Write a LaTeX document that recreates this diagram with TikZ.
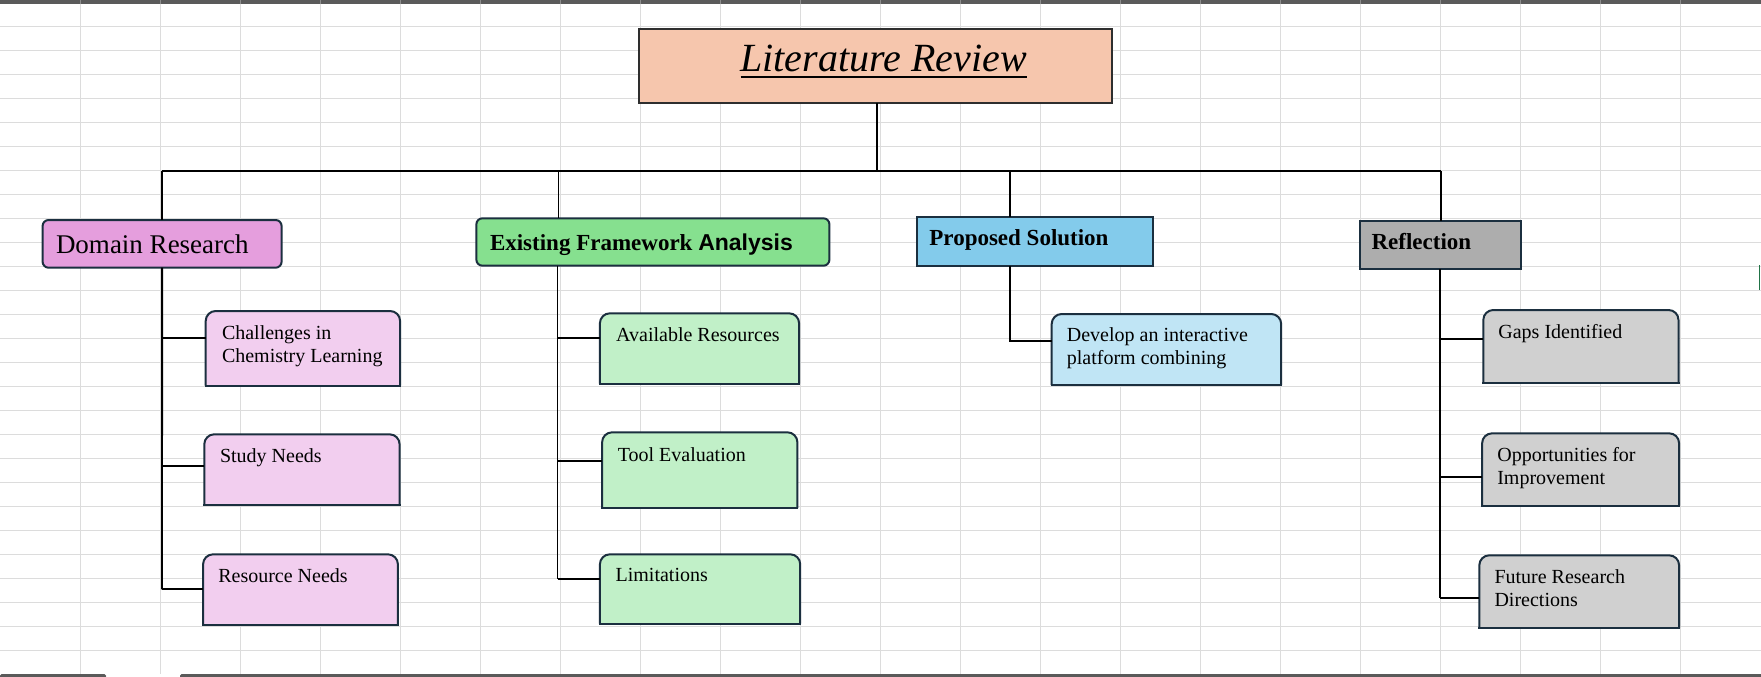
\documentclass[tikz,border=0pt]{standalone}
\usepackage{fontspec}
\setmainfont{Liberation Serif}
\newfontfamily\sansbold{Liberation Sans}
\definecolor{titlefill}{HTML}{F6C6AD}
\definecolor{titledraw}{HTML}{2E2E2E}
\definecolor{gridcol}{HTML}{DCDCDC}
\definecolor{barcol}{HTML}{5A5A5A}
\definecolor{barsep}{HTML}{8C8C8C}
\definecolor{boxedge}{HTML}{1B2F3F}
\definecolor{domfill}{HTML}{E59EDD}
\definecolor{domchild}{HTML}{F2CEEF}
\definecolor{exifill}{HTML}{86E08F}
\definecolor{exichild}{HTML}{C1F0C8}
\definecolor{profill}{HTML}{83CBEB}
\definecolor{prochild}{HTML}{C0E5F5}
\definecolor{reffill}{HTML}{ADADAD}
\definecolor{refchild}{HTML}{D0D0D0}
\definecolor{xlgreen}{HTML}{217346}
\tikzset{
  gridline/.style={draw=gridcol, line width=1pt},
  conn/.style={draw=black, line width=1.9pt},
  boxline/.style={draw=boxedge, line width=2pt},
  cnode/.style={rectangle, inner sep=0pt, outer sep=0pt, anchor=north west},
  topbox/.style={rectangle, inner sep=0pt, outer sep=0pt, anchor=north west, draw=boxedge, line width=2pt},
  lbl/.style={anchor=base west, inner sep=0pt, outer sep=0pt, text=black},
  small/.style={lbl, font=\fontsize{20}{23}\selectfont},
  twoline/.style={small, text width=#1pt, align=flush left},
  head/.style={lbl, font=\fontsize{23}{27}\selectfont\bfseries},
}
\newcommand\childbox[6]{%
  \node[cnode, minimum width=#4pt, minimum height=#5pt] (#1) at (#2,#3) {};
  \fill[#6, rounded corners=10pt] (#1.south west) -- (#1.north west) -- (#1.north east) -- (#1.south east);
  \draw[boxline, rounded corners=10pt] (#1.south west) -- (#1.north west) -- (#1.north east) -- (#1.south east);
  \draw[boxline, line cap=rect] (#1.south west) -- (#1.south east);
}
\newcommand\ulinetext[1]{\setbox0\hbox{#1}\rlap{\rule[-6.3pt]{\wd0}{2.4pt}}\box0}
\begin{document}
\begin{tikzpicture}[x=1pt, y=-1pt]
\useasboundingbox (0,0) rectangle (1761,677);
\fill[white] (0,0) rectangle (1761,677);
% spreadsheet grid
\foreach \i in {1,...,21} \draw[gridline] (80*\i,4) -- (80*\i,674);
\foreach \j in {1,...,27} \draw[gridline] (0,2.3+24*\j) -- (1761,2.3+24*\j);
% window bars
\fill[barcol] (0,0) rectangle (1761,4.5);
\foreach \i in {1,...,21} \draw[barsep, line width=0.8pt] (80*\i,0) -- (80*\i,4.5);
\fill[barcol, rounded corners=1.5pt] (0,674) rectangle (106,678);
\fill[barcol, rounded corners=1.5pt] (180,674) rectangle (1765,678);
\draw[xlgreen, line width=1.5pt] (1759.5,265) -- (1759.5,290);

% title
\node[topbox, draw=titledraw, line width=2.2pt, fill=titlefill, minimum width=473pt, minimum height=74pt] (title) at (639,29) {};
\node[lbl, font=\fontsize{40}{48}\selectfont\itshape] (titlet) at (740.5,71.7) {\ulinetext{Literature Review}};

% level-1 boxes
\node[topbox, rounded corners=6pt, fill=domfill, minimum width=239pt, minimum height=47.7pt] (dom) at (42.6,220) {};
\node[lbl, font=\fontsize{27}{32}\selectfont] (domt) at (56,253.3) {Domain Research};
\node[topbox, rounded corners=6pt, fill=exifill, minimum width=353pt, minimum height=47.4pt] (exi) at (476.4,218.3) {};
\node[head] (exit) at (490,250.7) {Existing Framework {\sansbold\bfseries Analysis}};
\node[topbox, fill=profill, minimum width=236.3pt, minimum height=48.7pt] (pro) at (917,217) {};
\node[head] (prot) at (929.4,245.7) {Proposed Solution};
\node[topbox, fill=reffill, minimum width=161.6pt, minimum height=48.3pt] (ref) at (1359.8,221) {};
\node[head] (reft) at (1371.6,249.3) {Reflection};

% child boxes
\childbox{cha}{205.7}{311}{194.4}{74.7}{domchild}
\childbox{stu}{204.3}{434.3}{195.3}{70.4}{domchild}
\childbox{res}{203.1}{554.3}{194.8}{70.4}{domchild}
\childbox{ava}{599.9}{313.3}{199.2}{70.4}{exichild}
\childbox{too}{602.1}{432.3}{195.3}{75.7}{exichild}
\childbox{lim}{599.9}{554.3}{200.3}{69.4}{exichild}
\childbox{dev}{1051.7}{314}{229.5}{71}{prochild}
\childbox{gap}{1483.3}{310}{195.2}{72.7}{refchild}
\childbox{opp}{1482.1}{433.3}{197}{72.4}{refchild}
\childbox{fut}{1479.3}{555.3}{199.8}{72.4}{refchild}

\node[twoline=175] (chat) at (222,339.5) {Challenges in\\Chemistry Learning};
\node[small] (stut) at (220,462.3) {Study Needs};
\node[small] (rest) at (218.3,582.3) {Resource Needs};
\node[small] (avat) at (616.2,341) {Available Resources};
\node[small] (toot) at (617.8,461) {Tool Evaluation};
\node[small] (limt) at (615.6,581.7) {Limitations};
\node[twoline=210] (devt) at (1066.9,341.7) {Develop an interactive\\platform combining};
\node[small] (gapt) at (1498.4,338.3) {Gaps Identified};
\node[twoline=175] (oppt) at (1497.3,461.7) {Opportunities for\\Improvement};
\node[twoline=175] (futt) at (1494.5,583.3) {Future Research\\Directions};

% connectors
\coordinate (hub) at (877,171);
\coordinate (xe) at (558.5,171);
\coordinate (xp) at (1010,171);
\draw[conn] (title.south -| hub) -- (hub);
\draw[conn] (dom.north |- hub) -- (ref.north |- hub);
\draw[conn] (dom.north |- hub) -- (dom.north);
\draw[conn] (xe) -- (exi.north -| xe);
\draw[conn] (xp) -- (pro.north -| xp);
\draw[conn] (ref.north |- hub) -- (ref.north);

\coordinate (td) at (162,0);
\coordinate (te) at (557.5,0);
\coordinate (tr) at (1440,0);
\draw[conn] (dom.south) -- (td |- 0,589.3);
\draw[conn] (td |- 0,338.3) -- (cha.west |- 0,338.3);
\draw[conn] (td |- 0,465.7) -- (stu.west |- 0,465.7);
\draw[conn] (td |- 0,589.3) -- (res.west |- 0,589.3);

\draw[conn] (exi.south -| te) -- (te |- 0,579.3);
\draw[conn] (te |- 0,338.3) -- (ava.west |- 0,338.3);
\draw[conn] (te |- 0,461.3) -- (too.west |- 0,461.3);
\draw[conn] (te |- 0,579.3) -- (lim.west |- 0,579.3);

\draw[conn] (pro.south -| xp) -- (xp |- 0,341.3) -- (dev.west |- 0,341.3);

\draw[conn] (ref.south -| tr) -- (tr |- 0,598);
\draw[conn] (tr |- 0,339.3) -- (gap.west |- 0,339.3);
\draw[conn] (tr |- 0,477.3) -- (opp.west |- 0,477.3);
\draw[conn] (tr |- 0,598) -- (fut.west |- 0,598);
\end{tikzpicture}
\end{document}
